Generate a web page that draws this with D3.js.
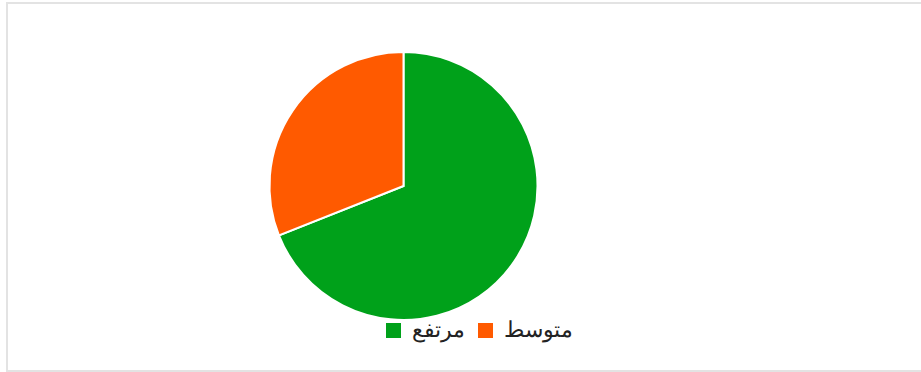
<!DOCTYPE html>
<html>
<head>
<meta charset="utf-8">
<script src="https://cdn.jsdelivr.net/npm/d3@7"></script>
<style>
body { margin: 0; background: #fff; }
#frame { position: absolute; left: 6px; top: 2px; width: 930px; height: 366px; border: 2px solid #e3e3e3; }
svg { position: absolute; left: 0; top: 0; }
</style>
</head>
<body>
<div id="frame"></div>
<svg id="chart"></svg>
<script>
let labels = ["مرتفع", "متوسط"]
let values = [69, 31]
let colors = ["#00a11a", "#ff5a00"]

let w = 921, h = 372
let cx = 403.5, cy = 186, r = 134

let svg = d3.select("#chart")
    .attr("width", w)
    .attr("height", h)

let pie = d3.pie().sort(null).value(d => d)
let arc = d3.arc().innerRadius(0).outerRadius(r)

svg.append("g")
    .attr("transform", "translate(" + cx + "," + cy + ")")
    .selectAll("path")
    .data(pie(values))
    .enter()
    .append("path")
    .attr("d", arc)
    .style("fill", (d, i) => colors[i])
    .style("stroke", "#fff")
    .style("stroke-width", 2)

// legend
let legendX = [386, 478]
let legend = svg.append("g")
    .selectAll("g")
    .data(labels)
    .enter()
    .append("g")
    .attr("transform", (d, i) => "translate(" + legendX[i] + ",323)")

legend.append("rect")
    .attr("width", 15)
    .attr("height", 15)
    .style("fill", (d, i) => colors[i])

legend.append("text")
    .attr("x", 26)
    .attr("y", 14)
    .attr("direction", "ltr")
    .style("font-family", "serif")
    .style("font-size", "22px")
    .style("fill", "#222")
    .text(d => d)
</script>
</body>
</html>
